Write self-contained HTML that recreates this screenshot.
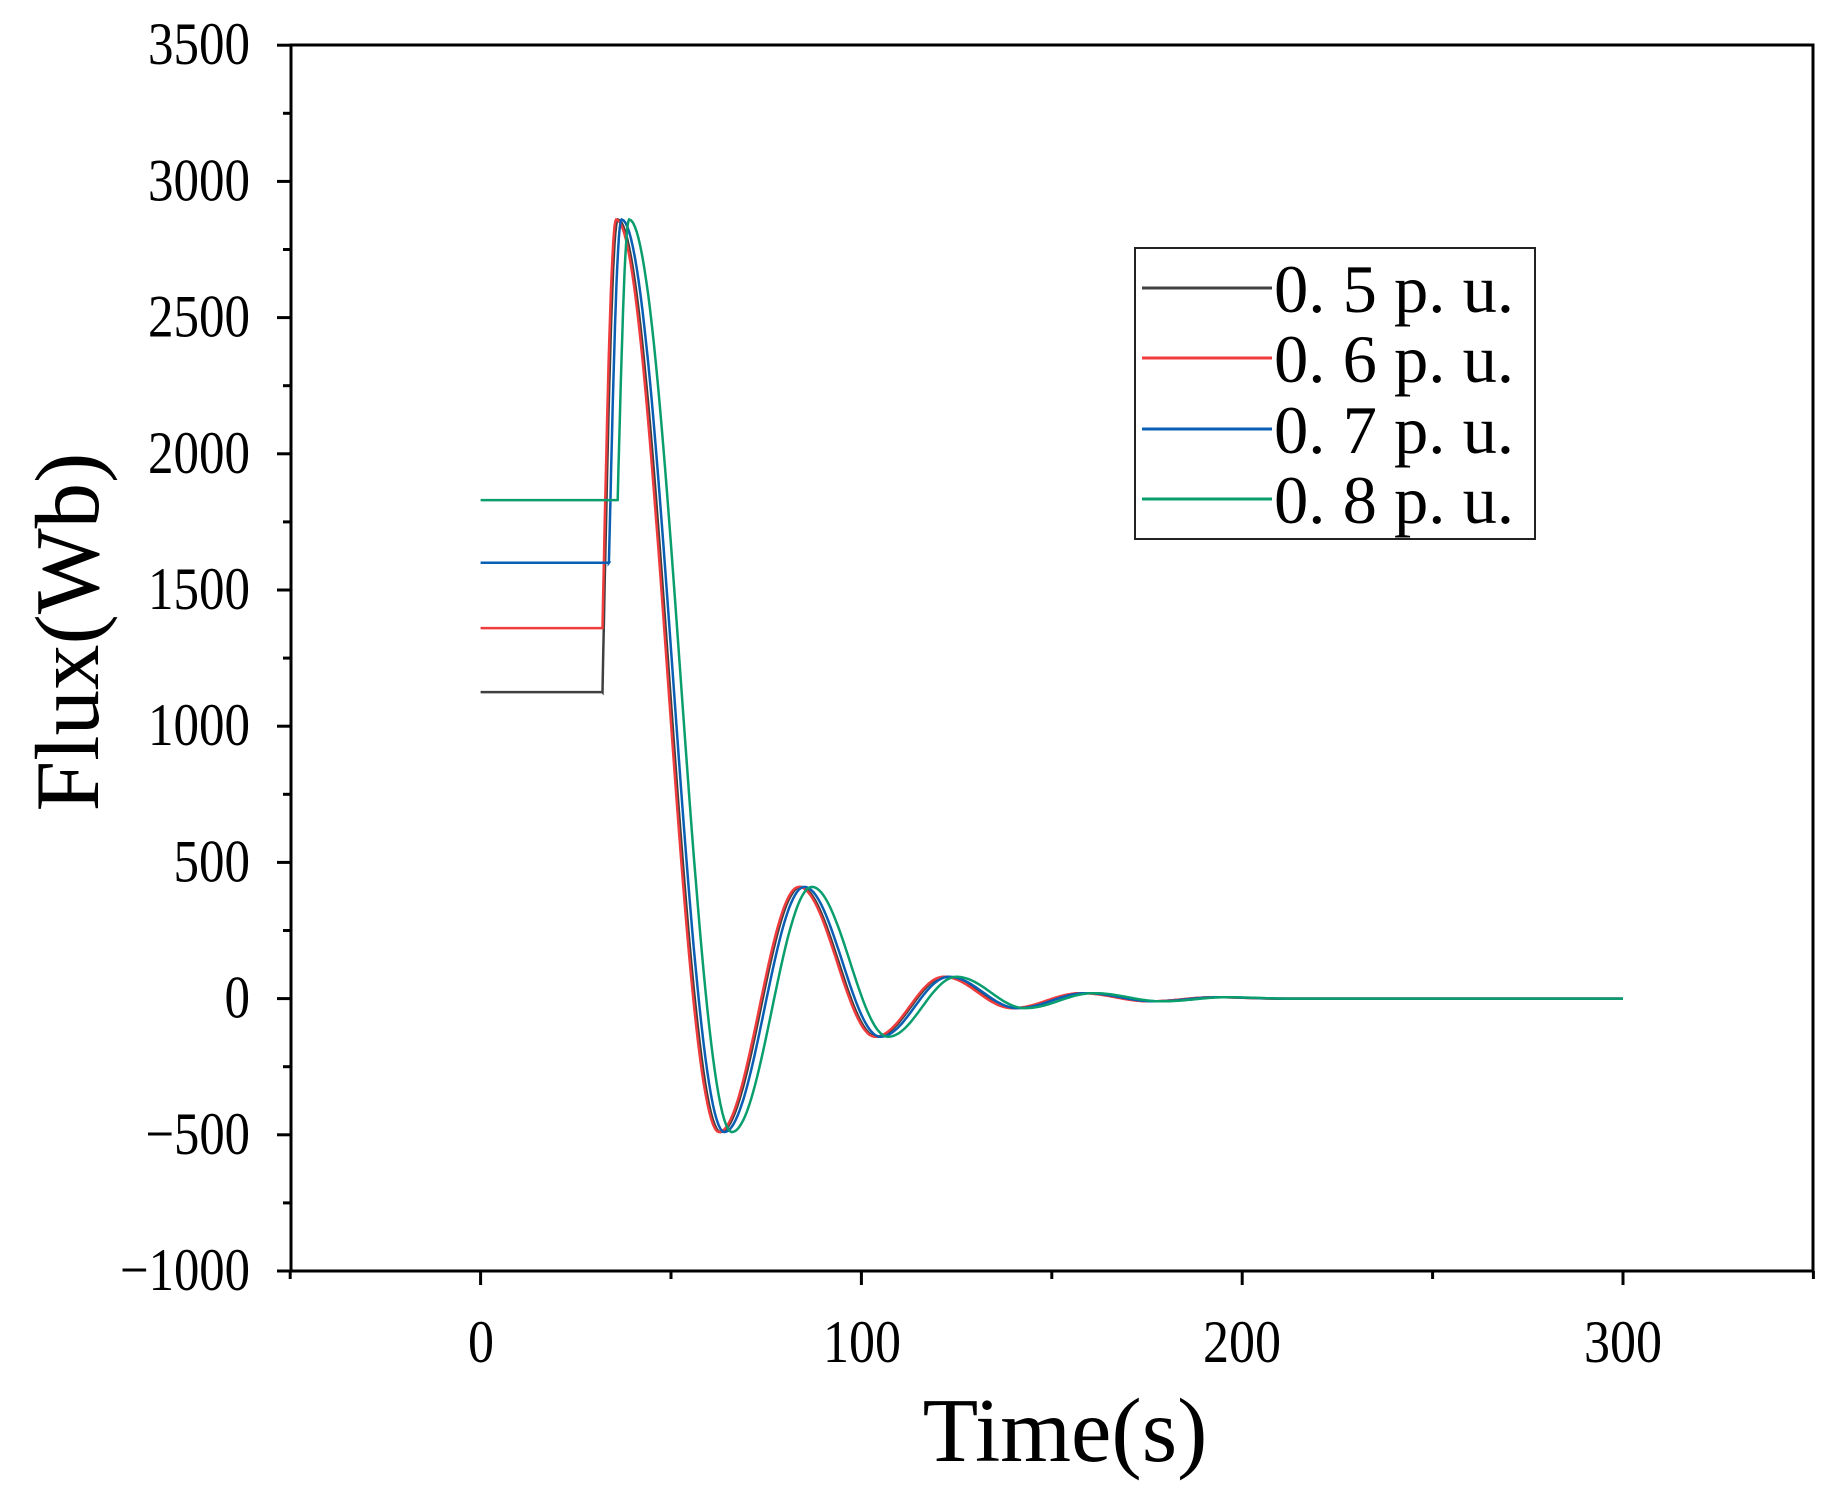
<!DOCTYPE html>
<html><head><meta charset="utf-8"><style>
html,body{margin:0;padding:0;background:#fff;}
svg{display:block;}
text{font-family:"Liberation Serif","Noto Serif CJK SC",serif;fill:#000;}
</style></head><body>
<svg id="s" width="1846" height="1498" viewBox="0 0 1846 1498" xmlns="http://www.w3.org/2000/svg">
<rect x="291" y="45" width="1522" height="1226" fill="none" stroke="#000" stroke-width="3"/>
<g id="ticks" stroke="#000" stroke-width="3"></g>
<g font-size="60" text-anchor="end" id="yl"></g>
<g font-size="60" text-anchor="middle">
<text x="481" y="1362" textLength="26" lengthAdjust="spacingAndGlyphs">0</text>
<text x="862" y="1362" textLength="78" lengthAdjust="spacingAndGlyphs">100</text>
<text x="1242" y="1362" textLength="78" lengthAdjust="spacingAndGlyphs">200</text>
<text x="1623" y="1362" textLength="78" lengthAdjust="spacingAndGlyphs">300</text>
</g>
<text x="1065" y="1461" font-size="91" text-anchor="middle">Time(s)</text>
<text transform="translate(98,632) rotate(-90)" font-size="91" text-anchor="middle">Flux(Wb)</text>
<g id="curves" fill="none" stroke-width="2.5"></g>
<rect x="1135" y="248" width="400" height="291" fill="#fff" stroke="#222" stroke-width="2"/>
<g stroke-width="3">
<line x1="1142" y1="288" x2="1272" y2="288" stroke="#404040"/>
<line x1="1142" y1="358" x2="1272" y2="358" stroke="#f03c3c"/>
<line x1="1142" y1="429" x2="1272" y2="429" stroke="#0a5fb4"/>
<line x1="1142" y1="499" x2="1272" y2="499" stroke="#0a9e6e"/>
</g>
<g font-size="68">
<text x="1274" y="312" textLength="240" lengthAdjust="spacingAndGlyphs">0. 5  p. u.</text>
<text x="1274" y="382" textLength="240" lengthAdjust="spacingAndGlyphs">0. 6  p. u.</text>
<text x="1274" y="453" textLength="240" lengthAdjust="spacingAndGlyphs">0. 7  p. u.</text>
<text x="1274" y="523" textLength="240" lengthAdjust="spacingAndGlyphs">0. 8  p. u.</text>
</g>
</svg>
<script>
(function(){
var X=function(t){return 480.6+t*3.808;},Y=function(v){return 998.6-v*0.2724;};
var tk=document.getElementById('ticks'),h='';
for(var v=-1000;v<=3500;v+=250){var y=Y(v),L=(v%500===0)?14:8;h+='<line x1="'+(291-L)+'" y1="'+y+'" x2="291" y2="'+y+'"/>';}
for(var t=-50;t<=350;t+=50){var x=X(t),L=(t%100===0)?14:8;h+='<line x1="'+x+'" y1="1271" x2="'+x+'" y2="'+(1271+L)+'"/>';}
tk.innerHTML=h;
var yl='';
for(var v=-1000;v<=3500;v+=500){var s=(v<0?'−':'')+Math.abs(v);var n=String(Math.abs(v)).length;var w=n*25.5+(v<0?28:0);
 yl+='<text x="250" y="'+(Y(v)+19)+'" textLength="'+w+'" lengthAdjust="spacingAndGlyphs">'+s+'</text>';}
document.getElementById('yl').innerHTML=yl;
var ext=[[0,2860],[27,-490],[48,410],[68,-140],[86,80],[104,-35],[122,20],[140,-10],[157,5],[174,0],[270,0]];
var ser=[[1125,32,36,0,'#404040'],[1360,32,35.6,-0.3,'#f03c3c'],[1600,33.7,37,1,'#0a5fb4'],[1830,36,39,3,'#0a9e6e']];
var c='';
ser.forEach(function(s){
 var v0=s[0],ts=s[1],tp=s[2];
 var d='M'+X(0)+' '+Y(v0)+' L'+X(ts)+' '+Y(v0);
 for(var t=ts;t<=tp;t+=0.2){var f=(t-ts)/(tp-ts);d+=' L'+X(t).toFixed(1)+' '+Y(v0+(2860-v0)*Math.sin(f*Math.PI/2)).toFixed(1);}
 for(var t=tp;t<=300;t+=0.5){
  var r=t-tp, val=0;
  if(r<ext[ext.length-1][0]){
   for(var i=0;i<ext.length-1;i++){if(r>=ext[i][0]&&r<=ext[i+1][0]){var f=(r-ext[i][0])/(ext[i+1][0]-ext[i][0]);val=ext[i][1]+(ext[i+1][1]-ext[i][1])*(1-Math.cos(f*Math.PI))/2;break;}}
  }
  d+=' L'+X(t).toFixed(1)+' '+Y(val).toFixed(1);
 }
 c+='<path d="'+d+'" stroke="'+s[4]+'"/>';
});
document.getElementById('curves').innerHTML=c;
})();
</script>
</body></html>
